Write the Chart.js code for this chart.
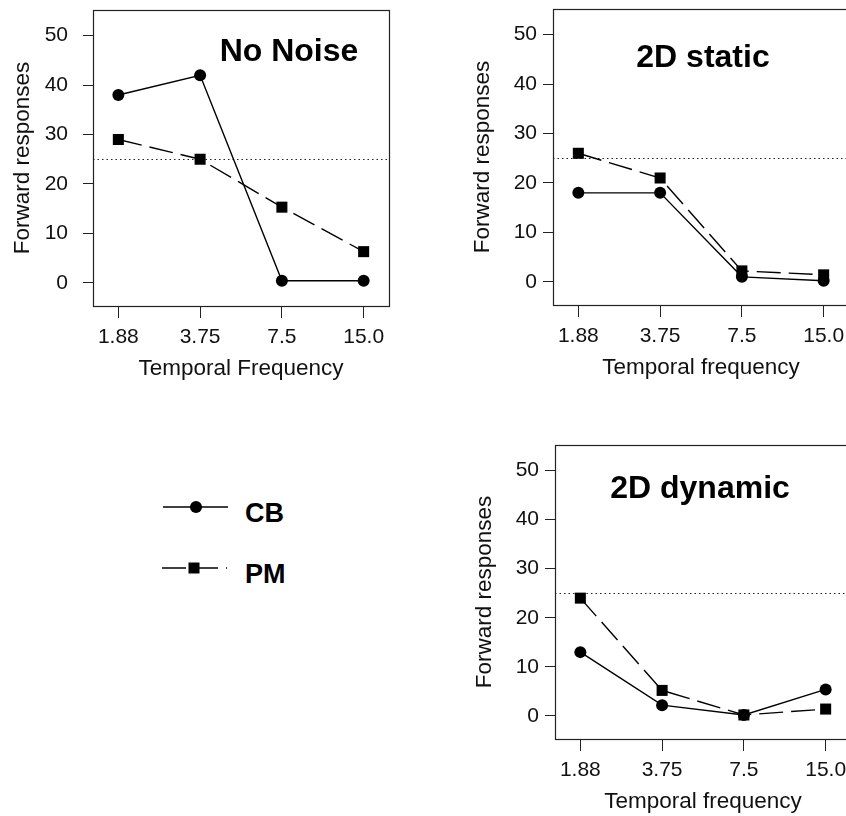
<!DOCTYPE html>
<html>
<head>
<meta charset="utf-8">
<script src="https://cdn.jsdelivr.net/npm/chart.js@4.4.1/dist/chart.umd.min.js"></script>
<style>
  html, body { margin: 0; padding: 0; background: #fff; }
  body { position: relative; width: 846px; height: 816px; overflow: hidden; }
  canvas { position: absolute; }
  #key { position: absolute; left: 150px; top: 480px; }
</style>
</head>
<body>
<canvas id="noNoise" width="420" height="390" style="left:0;top:0"></canvas>
<canvas id="static2d" width="420" height="390" style="left:460px;top:-1px"></canvas>
<canvas id="dynamic2d" width="420" height="388" style="left:462px;top:435px"></canvas>

<svg id="key" width="180" height="115" font-family="'Liberation Sans', Arial, sans-serif">
  <line x1="13" y1="27" x2="78" y2="27" stroke="#000" stroke-width="1.4"/>
  <circle cx="46" cy="27" r="6" fill="#000"/>
  <text x="95" y="42" font-size="27" font-weight="bold" fill="#000">CB</text>
  <line x1="12" y1="88" x2="77" y2="88" stroke="#000" stroke-width="1.4" stroke-dasharray="24 8"/>
  <rect x="38.5" y="82.5" width="11" height="11" fill="#000"/>
  <text x="95" y="103" font-size="27" font-weight="bold" fill="#000">PM</text>
</svg>

<script>
// temporal frequencies (Hz) along the x axis
const TEMP_FREQ = ['1.88', '3.75', '7.5', '15.0'];
const Y_TICKS = [0, 10, 20, 30, 40, 50];
const CHANCE = 25;

// forward responses per condition
const NO_NOISE_CB = [38, 42, 0.4, 0.4];
const NO_NOISE_PM = [29, 25, 15.3, 6.3];
const STATIC_CB = [18, 18, 1.0, 0.2];
const STATIC_PM = [26, 21, 2.2, 1.4];
const DYNAMIC_CB = [13, 2.2, 0.2, 5.4];
const DYNAMIC_PM = [24, 5.2, 0.2, 1.4];

const Y_MIN = -4.7, Y_MAX = 55.2;
const X_MIN = -0.31, X_MAX = 3.31;

Chart.defaults.font.family = "'Liberation Sans', Arial, sans-serif";
Chart.defaults.color = '#111';

// box around the plot, chance line and the bold panel heading
const panelDecor = {
  id: 'panelDecor',
  beforeDatasetsDraw(chart) {
    const { ctx, chartArea: a, scales: { y } } = chart;
    const yc = Math.round(y.getPixelForValue(CHANCE)) + 0.5;
    ctx.save();
    ctx.strokeStyle = '#222';
    ctx.lineWidth = 1.1;
    ctx.setLineDash([1.5, 3]);
    ctx.beginPath();
    ctx.moveTo(a.left, yc);
    ctx.lineTo(a.right, yc);
    ctx.stroke();
    ctx.restore();
  },
  afterDraw(chart, args, opts) {
    const { ctx, chartArea: a } = chart;
    ctx.save();
    ctx.strokeStyle = '#222';
    ctx.lineWidth = 1.2;
    ctx.strokeRect(a.left + 0.5, a.top + 0.5, a.right - a.left, a.bottom - a.top);
    ctx.fillStyle = '#000';
    ctx.font = "bold 32px 'Liberation Sans', Arial, sans-serif";
    ctx.textAlign = 'center';
    ctx.textBaseline = 'alphabetic';
    ctx.fillText(opts.text, a.left + opts.dx, a.top + opts.dy);
    ctx.restore();
  }
};

function toPoints(vals) {
  return vals.map((v, i) => ({ x: i, y: v }));
}

function panel(id, cb, pm, o) {
  return new Chart(document.getElementById(id), {
    type: 'line',
    data: {
      datasets: [
        {
          label: 'PM',
          data: toPoints(pm),
          borderColor: '#000',
          backgroundColor: '#000',
          borderWidth: 1.4,
          borderDash: [24, 8],
          pointStyle: 'rect',
          pointRadius: 7.8,
          pointBorderWidth: 0,
          tension: 0
        },
        {
          label: 'CB',
          data: toPoints(cb),
          borderColor: '#000',
          backgroundColor: '#000',
          borderWidth: 1.4,
          pointStyle: 'circle',
          pointRadius: 6,
          pointBorderWidth: 0,
          tension: 0
        }
      ]
    },
    options: {
      responsive: false,
      animation: false,
      events: [],
      layout: { padding: { top: 10, right: 31, left: 0, bottom: 0 } },
      plugins: {
        legend: { display: false },
        tooltip: { enabled: false },
        panelDecor: { text: o.title, dx: o.dx, dy: o.dy }
      },
      scales: {
        x: {
          type: 'linear',
          min: X_MIN,
          max: X_MAX,
          afterBuildTicks: s => { s.ticks = TEMP_FREQ.map((_, i) => ({ value: i })); },
          afterFit: s => { s.height = 84; s.paddingLeft = 0; s.paddingRight = 0; },
          grid: { drawOnChartArea: false, tickLength: 12, color: '#222' },
          border: { display: false },
          ticks: { callback: (v, i) => TEMP_FREQ[i], padding: 7, font: { size: 21 }, maxRotation: 0, autoSkip: false },
          title: { display: true, text: o.xTitle, font: { size: 22.5 }, padding: { top: 0, bottom: 8 } }
        },
        y: {
          min: Y_MIN,
          max: Y_MAX,
          afterBuildTicks: s => { s.ticks = Y_TICKS.map(v => ({ value: v })); },
          afterFit: s => { s.width = 93; s.paddingTop = 0; s.paddingBottom = 0; },
          grid: { drawOnChartArea: false, tickLength: 10, color: '#222' },
          border: { display: false },
          ticks: { padding: o.yPad, font: { size: 21 } },
          title: { display: true, text: 'Forward responses', font: { size: 22.5 }, padding: { top: 9, bottom: 0 } }
        }
      }
    },
    plugins: [panelDecor]
  });
}

panel('noNoise', NO_NOISE_CB, NO_NOISE_PM, { title: 'No Noise', dx: 196, dy: 51, xTitle: 'Temporal Frequency', yPad: 15 });
panel('static2d', STATIC_CB, STATIC_PM, { title: '2D static', dx: 150, dy: 58, xTitle: 'Temporal frequency', yPad: 6 });
panel('dynamic2d', DYNAMIC_CB, DYNAMIC_PM, { title: '2D dynamic', dx: 145, dy: 53, xTitle: 'Temporal frequency', yPad: 6 });
</script>
</body>
</html>
